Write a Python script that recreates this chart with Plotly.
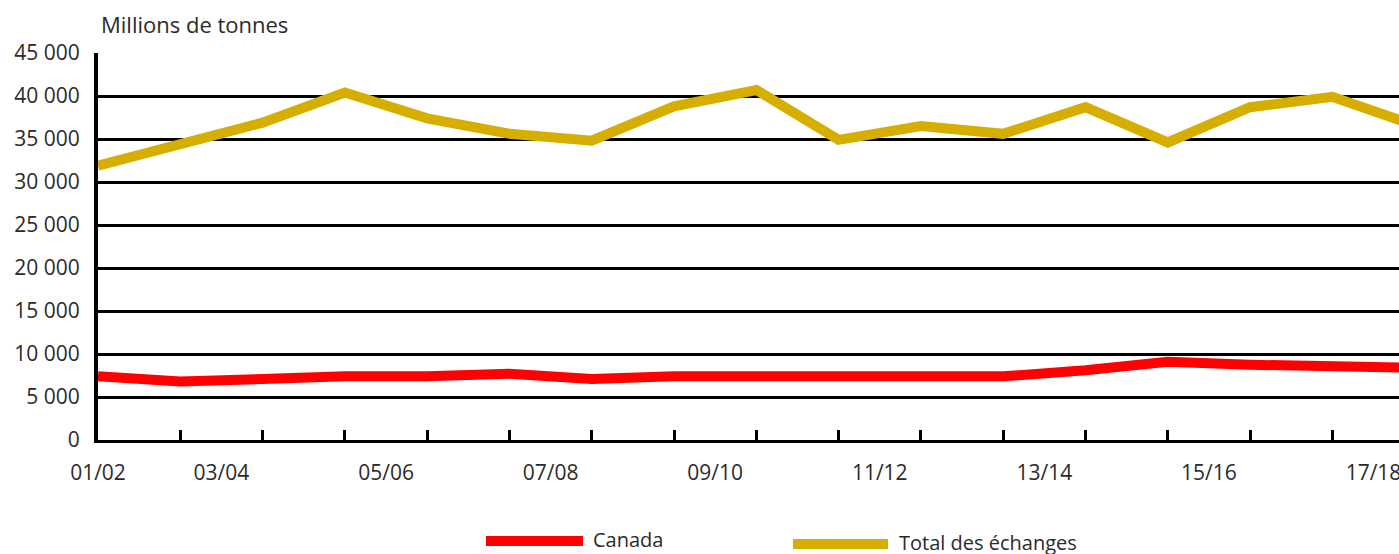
import plotly.graph_objects as go

# ---- data ----
years = ["01/02", "02/03", "03/04", "04/05", "05/06", "06/07", "07/08", "08/09",
         "09/10", "10/11", "11/12", "12/13", "13/14", "14/15", "15/16", "16/17", "17/18"]
canada = [7400, 6800, 7100, 7400, 7400, 7700, 7100, 7400, 7400, 7400, 7400, 7400,
          8100, 9100, 8750, 8700, 8400]
total = [31900, 34500, 36900, 40400, 37400, 35600, 34800, 38800, 40700, 34900,
         36500, 35600, 38700, 34600, 38700, 39900, 36600]
tick_labels = ["01/02", "03/04", "05/06", "07/08", "09/10", "11/12", "13/14", "15/16", "17/18"]
y_ticks = [0, 5000, 10000, 15000, 20000, 25000, 30000, 35000, 40000, 45000]

RED = "#FF0000"
GOLD = "#D6AE00"
TXT = "#2b2b2b"
FONT = "Open Sans"

W, H = 1399, 554
ML, MR, MT, MB = 98, 0, 53, 114
x = list(range(len(years)))
label_pos = [0] + [1.5 + 2 * i for i in range(len(tick_labels) - 1)]

fig = go.Figure()
fig.add_trace(go.Scatter(x=x, y=canada, mode="lines", name="Canada",
                         line=dict(color=RED, width=10), showlegend=False))
fig.add_trace(go.Scatter(x=x, y=total, mode="lines", name="Total des échanges",
                         line=dict(color=GOLD, width=10), showlegend=False))

plot_w = W - ML - MR
plot_h = H - MT - MB
unit = 82.29
xmax = plot_w / unit

fig.update_layout(
    width=W, height=H,
    margin=dict(l=ML, r=MR, t=MT, b=MB, autoexpand=False),
    paper_bgcolor="white", plot_bgcolor="white",
    font=dict(family=FONT, size=21, color=TXT),
    xaxis=dict(
        range=[0, xmax], showgrid=False, zeroline=False,
        showline=True, linecolor="black", linewidth=3,
        tickmode="array", tickvals=label_pos, ticktext=tick_labels,
        ticks="", ticklabelstandoff=12, ticklabeloverflow="allow",
        tickfont=dict(family=FONT, size=21, color=TXT),
        minor=dict(tickmode="array", tickvals=list(range(1, len(years))),
                   ticks="inside", ticklen=10, tickwidth=3, tickcolor="black",
                   showgrid=False),
        automargin=False,
    ),
    yaxis=dict(
        range=[0, 45000], tickmode="array", tickvals=y_ticks,
        ticktext=[f"{v:,}".replace(",", " ") for v in y_ticks],
        showgrid=True, gridcolor="black", gridwidth=2.5,
        zeroline=False, showline=True, linecolor="black", linewidth=4,
        ticks="", ticklabelstandoff=10,
        tickfont=dict(family=FONT, size=21, color=TXT),
        automargin=False,
    ),
)


def px_x(px):
    return (px - ML) / plot_w


def px_y(py):
    return (H - MB - py) / plot_h


fig.add_annotation(text="Millions de tonnes", xref="paper", yref="paper",
                   x=px_x(99), y=px_y(24), xanchor="left", yanchor="middle",
                   showarrow=False, font=dict(family=FONT, size=22, color=TXT))

legend = [("Canada", RED, 486, 583, 541, 591, 539),
          ("Total des échanges", GOLD, 793, 888, 544, 897, 542)]
for name, col, x0, x1, ly, tx, ty in legend:
    fig.add_shape(type="line", xref="paper", yref="paper",
                  x0=px_x(x0), x1=px_x(x1), y0=px_y(ly), y1=px_y(ly),
                  line=dict(color=col, width=10))
    fig.add_annotation(text=name, xref="paper", yref="paper",
                       x=px_x(tx), y=px_y(ty), xanchor="left", yanchor="middle",
                       showarrow=False, font=dict(family=FONT, size=20, color=TXT))

fig.write_html("out.html", config={"displayModeBar": False},
               post_script="document.body.style.margin='0';document.body.style.overflow='hidden';")
